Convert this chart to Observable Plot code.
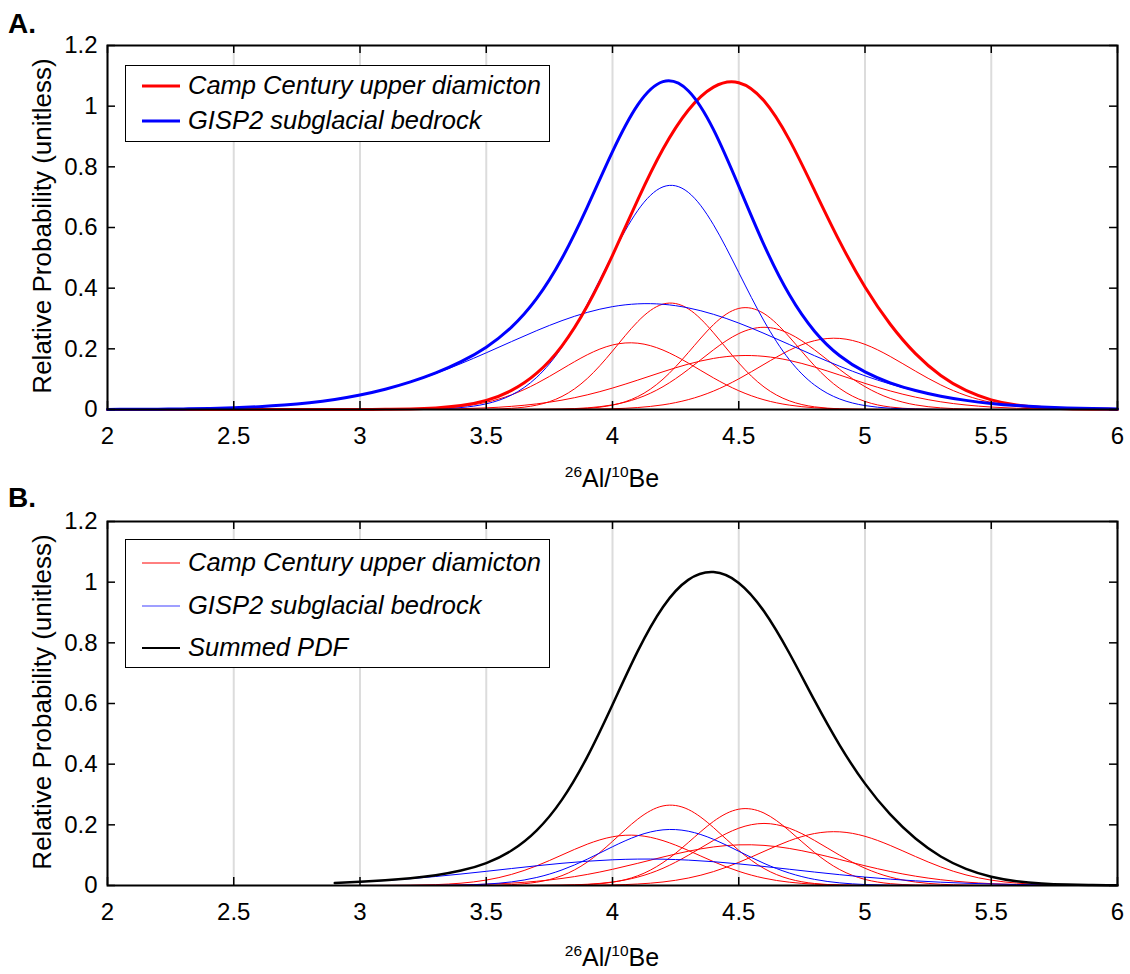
<!DOCTYPE html>
<html>
<head>
<meta charset="utf-8">
<script src="https://cdn.jsdelivr.net/npm/d3@7"></script>
<script src="https://cdn.jsdelivr.net/npm/@observablehq/plot@0.6"></script>
<style>
  body { margin: 0; background: #fff; }
  #wrap { position: relative; width: 1130px; height: 974px; overflow: hidden;
          font-family: "Liberation Sans", Arial, Helvetica, sans-serif; color: #000; }
  .panel { position: absolute; left: 0; }
  .tag { position: absolute; left: 8px; font-weight: bold; font-size: 28px; line-height: 1; }
  .ylab { position: absolute; white-space: nowrap; font-size: 26px; line-height: 1;
          transform: translate(-50%, -50%) rotate(-90deg); }
  .xlab { position: absolute; white-space: nowrap; font-size: 25px; line-height: 1;
          transform: translate(-50%, -50%); }
  .xlab sup { font-size: 0.62em; vertical-align: baseline; position: relative; top: -0.62em; }
  .legend { position: absolute; border: 1.5px solid #000; background: #fff; box-sizing: border-box; }
  .row { position: absolute; left: 0; height: 0; width: 100%; }
  .row svg { position: absolute; left: 16px; top: -5px; overflow: visible; }
  .lt { position: absolute; left: 62px; top: 0; transform: translateY(-50%);
        font-style: italic; font-size: 25.5px; white-space: nowrap; line-height: 1; }
</style>
</head>
<body>
<div id="wrap">
  <div class="panel" id="pa" style="top:0"></div>
  <div class="panel" id="pb" style="top:487px"></div>
</div>
<script>
// ---------------- data ----------------
const ratio = [2.0,2.1,2.2,2.3,2.4,2.5,2.6,2.7,2.8,2.9,
               3.0,3.1,3.2,3.3,3.4,3.5,3.6,3.7,3.8,3.9,
               4.0,4.1,4.2,4.3,4.4,4.5,4.6,4.7,4.8,4.9,
               5.0,5.1,5.2,5.3,5.4,5.5,5.6,5.7,5.8,5.9,
               6.0];

// Camp Century upper diamicton samples (relative probability, panel A scale)
const cc1 = [0,0,0,0,0,0,0,0,0,0,
  0.0001,0.0003,0.0012,0.0038,0.0101,0.0237,0.0484,0.0860,0.1334,0.1804,
  0.2127,0.2186,0.1959,0.1531,0.1042,0.0619,0.0320,0.0145,0.0057,0.0020,
  0.0006,0.0002,0,0,0,0,0,0,0,0,
  0];
const cc2 = [0,0,0,0,0,0,0,0,0,0,
  0,0,0,0,0.0001,0.0008,0.0039,0.0145,0.0431,0.1021,
  0.1927,0.2898,0.3475,0.3320,0.2529,0.1536,0.0743,0.0287,0.0088,0.0022,
  0.0004,0.0001,0,0,0,0,0,0,0,0,
  0];
const cc3 = [0,0,0,0,0,0,0,0,0,0,
  0,0,0,0,0,0,0,0.0001,0.0008,0.0039,
  0.0144,0.0425,0.1000,0.1874,0.2799,0.3332,0.3163,0.2393,0.1443,0.0694,
  0.0266,0.0081,0.0020,0.0004,0.0001,0,0,0,0,0,
  0];
const cc4 = [0,0,0,0,0,0,0,0,0,0,
  0,0,0,0,0,0,0.0001,0.0004,0.0016,0.0054,
  0.0152,0.0367,0.0753,0.1319,0.1968,0.2502,0.2710,0.2502,0.1968,0.1319,
  0.0753,0.0367,0.0152,0.0054,0.0016,0.0004,0.0001,0,0,0,
  0];
const cc5 = [0,0,0,0,0,0,0,0,0,0,
  0.0001,0.0002,0.0005,0.0012,0.0027,0.0054,0.0104,0.0185,0.0309,0.0483,
  0.0707,0.0969,0.1244,0.1496,0.1684,0.1775,0.1752,0.1619,0.1401,0.1135,
  0.0861,0.0612,0.0407,0.0253,0.0148,0.0081,0.0041,0.0020,0.0009,0.0004,
  0.0001];
const cc6 = [0,0,0,0,0,0,0,0,0,0,
  0,0,0,0,0,0,0,0.0001,0.0002,0.0008,
  0.0024,0.0065,0.0154,0.0325,0.0607,0.1010,0.1489,0.1951,0.2269,0.2343,
  0.2148,0.1748,0.1264,0.0811,0.0462,0.0234,0.0105,0.0042,0.0015,0.0005,
  0.0001];

// GISP2 subglacial bedrock samples
const gisp1 = [0,0,0,0,0,0,0,0,0,0,
  0,0.0001,0.0005,0.0019,0.0064,0.0187,0.0477,0.1061,0.2055,0.3470,
  0.5110,0.6560,0.7340,0.7160,0.6090,0.4516,0.2920,0.1646,0.0808,0.0346,
  0.0129,0.0042,0.0012,0.0003,0.0001,0,0,0,0,0,
  0];
const gisp2 = [0.0003,0.0006,0.0011,0.0019,0.0034,0.0057,0.0092,0.0145,0.0223,0.0331,
  0.0477,0.0667,0.0904,0.1187,0.1513,0.1869,0.2239,0.2601,0.2930,0.3201,
  0.3391,0.3483,0.3469,0.3350,0.3138,0.2850,0.2509,0.2143,0.1774,0.1425,
  0.1110,0.0838,0.0613,0.0435,0.0300,0.0200,0.0129,0.0081,0.0050,0.0029,
  0.0017];

// weights of each group in the summed PDF (panel B)
const ccWeight = 0.755;
const gispWeight = 0.25;
const summedStart = 2.9;   // summed PDF drawn from here

const xTicks = [2, 2.5, 3, 3.5, 4, 4.5, 5, 5.5, 6];
const yTicks = [0, 0.2, 0.4, 0.6, 0.8, 1, 1.2];
const groupNames = ["Camp Century upper diamicton", "GISP2 subglacial bedrock"];
const summedName = "Summed PDF";
const yTitle = "Relative Probability (unitless)";

// ---------------- helpers ----------------
const ccSeries = [cc1, cc2, cc3, cc4, cc5, cc6];
const gispSeries = [gisp1, gisp2];
const ccSum = ratio.map((x, i) => d3.sum(ccSeries, a => a[i]));
const gispSum = ratio.map((x, i) => d3.sum(gispSeries, a => a[i]));

function rows(arrs, name, w = 1, start = -Infinity) {
  const out = [];
  arrs.forEach((a, k) => ratio.forEach((x, i) => {
    if (x >= start - 1e-9) out.push({x, y: a[i] * w, s: name + k});
  }));
  return out;
}

const FRAME_W = 1130 - 107 - 13;
const FRAME_H = 364;
const TICK = 8;
const CURVE = "natural";

function decorations() {
  return [
    Plot.ruleX(xTicks, {insetTop: FRAME_H - TICK, stroke: "#000", strokeWidth: 1.5}),
    Plot.ruleX(xTicks, {insetBottom: FRAME_H - TICK, stroke: "#000", strokeWidth: 1.5}),
    Plot.ruleY(yTicks, {insetRight: FRAME_W - TICK, stroke: "#000", strokeWidth: 1.5}),
    Plot.ruleY(yTicks, {insetLeft: FRAME_W - TICK, stroke: "#000", strokeWidth: 1.5}),
    Plot.frame({stroke: "#000", strokeWidth: 2})
  ];
}

function base(marginTop, marginBottom, marks) {
  return Plot.plot({
    width: 1130, height: 487,
    marginLeft: 107, marginRight: 13, marginTop, marginBottom,
    style: {fontFamily: "'Liberation Sans', Arial, Helvetica, sans-serif", fontSize: "24px",
            color: "#000", background: "transparent", overflow: "visible"},
    x: {domain: [2, 6], ticks: xTicks, tickSize: 0, tickPadding: 17, tickFormat: d => String(d), label: null},
    y: {domain: [0, 1.2], ticks: yTicks, tickSize: 0, tickPadding: 10, tickFormat: d => String(d), label: null},
    marks: [
      Plot.ruleX(xTicks, {stroke: "#dcdcdc", strokeWidth: 2}),
      ...marks,
      ...decorations()
    ]
  });
}

// ---------------- panel A ----------------
const plotA = base(45, 78, [
  Plot.line(rows(ccSeries, "cc"), {x: "x", y: "y", z: "s", stroke: "#ff0000", strokeWidth: 1, curve: CURVE}),
  Plot.line(rows(gispSeries, "gi"), {x: "x", y: "y", z: "s", stroke: "#0000ff", strokeWidth: 1, curve: CURVE}),
  Plot.line(rows([ccSum], "ccsum"), {x: "x", y: "y", stroke: "#ff0000", strokeWidth: 3, curve: CURVE}),
  Plot.line(rows([gispSum], "gisum"), {x: "x", y: "y", stroke: "#0000ff", strokeWidth: 3, curve: CURVE})
]);
document.getElementById("pa").appendChild(plotA);

// ---------------- panel B ----------------
const summed = ratio.map((x, i) => ccWeight * ccSum[i] + gispWeight * gispSum[i]);
const plotB = base(34, 89, [
  Plot.line(rows(ccSeries, "cc", ccWeight, summedStart), {x: "x", y: "y", z: "s", stroke: "#ff0000", strokeWidth: 1, curve: CURVE}),
  Plot.line(rows(gispSeries, "gi", gispWeight, summedStart), {x: "x", y: "y", z: "s", stroke: "#0000ff", strokeWidth: 1, curve: CURVE}),
  Plot.line(rows([summed], "sum", 1, summedStart), {x: "x", y: "y", stroke: "#000", strokeWidth: 2.5, curve: CURVE})
]);
document.getElementById("pb").appendChild(plotB);

// ---------------- text overlays & legends ----------------
const wrap = document.getElementById("wrap");
function add(html, cls, style) {
  const d = document.createElement("div");
  d.className = cls; d.innerHTML = html; d.setAttribute("style", style);
  wrap.appendChild(d); return d;
}
add("A.", "tag", "top:10px");
add("B.", "tag", "top:484px");
add(yTitle, "ylab", "left:42px; top:226px");
add(yTitle, "ylab", "left:42px; top:702px");
const xTitle = "<sup>26</sup>Al/<sup>10</sup>Be";
add(xTitle, "xlab", "left:612px; top:478px");
add(xTitle, "xlab", "left:612px; top:957px");

function legend(left, top, w, h, items) {
  const box = add("", "legend", `left:${left}px; top:${top}px; width:${w}px; height:${h}px`);
  items.forEach(it => {
    const r = document.createElement("div");
    r.className = "row";
    r.style.top = it.y + "px";
    r.innerHTML = `<svg width="40" height="10"><line x1="0" x2="38" y1="5" y2="5" stroke="${it.c}" stroke-width="${it.w}"></line></svg>` +
                  `<div class="lt">${it.t}</div>`;
    box.appendChild(r);
  });
}
legend(125, 65, 425, 77, [
  {t: groupNames[0], c: "#ff0000", w: 3, y: 20},
  {t: groupNames[1], c: "#0000ff", w: 3, y: 55}
]);
legend(125, 539, 425, 129, [
  {t: groupNames[0], c: "#ff0000", w: 1, y: 23},
  {t: groupNames[1], c: "#7f7fff", w: 1.5, y: 66},
  {t: summedName, c: "#000", w: 2, y: 108}
]);
</script>
</body>
</html>
